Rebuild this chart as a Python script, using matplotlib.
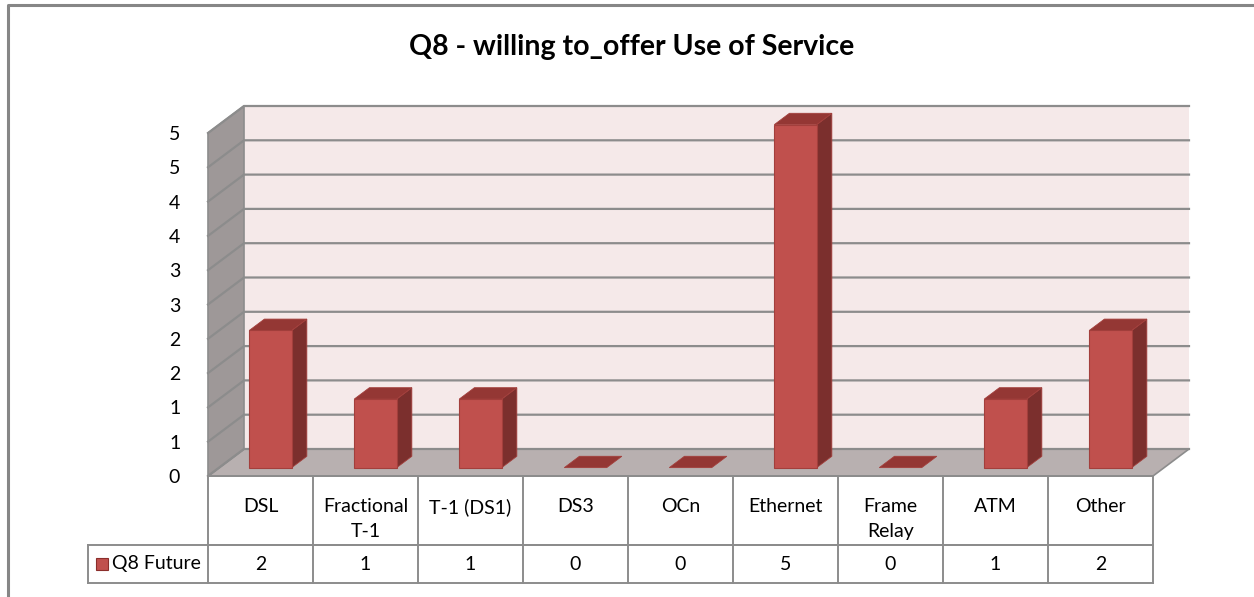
"""Q8 - 3D-style column chart with data table (Excel look)
"""

import math
import numpy as np
import matplotlib
matplotlib.use('Agg')
import matplotlib.pyplot as plt
from matplotlib.patches import Polygon
from matplotlib.lines import Line2D

plt.rcParams['font.family'] = ['Lato', 'DejaVu Sans']

title = 'Q8 - willing to_offer Use of Service'
series_name = 'Q8 Future'
categories = ['DSL', 'Fractional\nT-1', 'T-1 (DS1)', 'DS3', 'OCn',
              'Ethernet', 'Frame\nRelay', 'ATM', 'Other']
values = [2, 1, 1, 0, 0, 5, 0, 1, 2]
y_ticks = np.arange(0, 5.01, 0.5)

W, H = 1254, 597

# depth offsets of the fake 3d box (category units / value units)
DX = 36 / 105.0
DY = 27 / 68.6

front_c = '#c0504d'
side_c = '#7b2f2d'
top_c = '#943734'
edge_c = '#a33f3c'
grid_c = '#8c8c8c'


def proj(x, y, z):
    return (x + z * DX, y + z * DY)


def poly(ax, pts, fc, ec='none', lw=0.0, z=1):
    ax.add_patch(Polygon(pts, closed=True, facecolor=fc, edgecolor=ec,
                         linewidth=lw, clip_on=False, zorder=z))


fig = plt.figure(figsize=(W / 100, H / 100), dpi=100)
ax = fig.add_axes([208 / W, (H - 476) / H, 945 / W, 343 / H])
n = len(categories)
ax.set_xlim(0, n)
ax.set_ylim(0, 5)
ax.set_frame_on(False)
ax.set_xticks([])
ax.set_yticks(y_ticks)
ax.set_yticklabels([str(int(math.floor(v + 0.5))) for v in y_ticks], fontsize=14)
ax.tick_params(axis='y', length=0, pad=20)

ymax = 5
# floor, back wall, left wall
poly(ax, [proj(0, 0, 0), proj(n, 0, 0), proj(n, 0, 1), proj(0, 0, 1)], '#b8b0b0',
     ec=grid_c, lw=1.2)
poly(ax, [proj(0, 0, 1), proj(n, 0, 1), proj(n, ymax, 1), proj(0, ymax, 1)], '#f5e9e9')
poly(ax, [proj(0, 0, 0), proj(0, ymax, 0), proj(0, ymax, 1), proj(0, 0, 1)], '#9e9898',
     ec=grid_c, lw=1.2)

# gridlines on back wall and left wall
for v in y_ticks:
    p0 = proj(0, v, 0)
    p1 = proj(0, v, 1)
    p2 = proj(n, v, 1)
    ax.plot([p0[0], p1[0], p2[0]], [p0[1], p1[1], p2[1]], color=grid_c, lw=1.6,
            clip_on=False, zorder=2, solid_joinstyle='miter')

# bars
x0_off, x1_off = 0.287, 0.691
z0, z1 = 0.31, 0.73
for i, v in enumerate(values):
    x0, x1 = i + x0_off, i + x1_off
    if v > 0:
        poly(ax, [proj(x1, 0, z0), proj(x1, v, z0), proj(x1, v, z1), proj(x1, 0, z1)],
             side_c, ec=edge_c, lw=0.6, z=3)
        poly(ax, [proj(x0, 0, z0), proj(x1, 0, z0), proj(x1, v, z0), proj(x0, v, z0)],
             front_c, ec=edge_c, lw=0.8, z=4)
    poly(ax, [proj(x0, v, z0), proj(x1, v, z0), proj(x1, v, z1), proj(x0, v, z1)],
         top_c, ec=edge_c, lw=0.6, z=4)

# data table
row1 = -69 / 68.6
row2 = -107 / 68.6
leg_x = -120 / 105.0
tk = dict(color=grid_c, lw=1.4, clip_on=False, zorder=5)
ax.plot([0, n], [0, 0], **tk)
ax.plot([0, n], [row1, row1], **tk)
ax.plot([leg_x, n], [row1, row1], **tk)
ax.plot([leg_x, n], [row2, row2], **tk)
ax.plot([leg_x, leg_x], [row1, row2], **tk)
for i in range(n + 1):
    ax.plot([i, i], [0, row2], **tk)

for i, (c, v) in enumerate(zip(categories, values)):
    ax.text(i + 0.5, -22 / 68.6, c, ha='center', va='top', fontsize=14,
            linespacing=1.6, clip_on=False)
    ax.text(i + 0.5, (row1 + row2) / 2, str(v), ha='center', va='center',
            fontsize=14, clip_on=False)

ax.plot([-1.01], [(row1 + row2) / 2], marker='s', ms=9, mfc=front_c, mec='#8b2e2b',
        mew=0.8, clip_on=False, zorder=6)
ax.text(-0.915, (row1 + row2) / 2, series_name, ha='left', va='center',
        fontsize=14, clip_on=False)

fig.text(632 / W, 1 - 47 / H, title, ha='center', va='center', fontsize=20.5,
         fontweight='bold')

# chart area border (only top/left visible)
fig.add_artist(Line2D([8 / W, 8 / W, 1], [0, 1 - 5 / H, 1 - 5 / H],
                      transform=fig.transFigure, color='#868686', lw=2.2))

fig.savefig('out.png', dpi=100, facecolor='white')
